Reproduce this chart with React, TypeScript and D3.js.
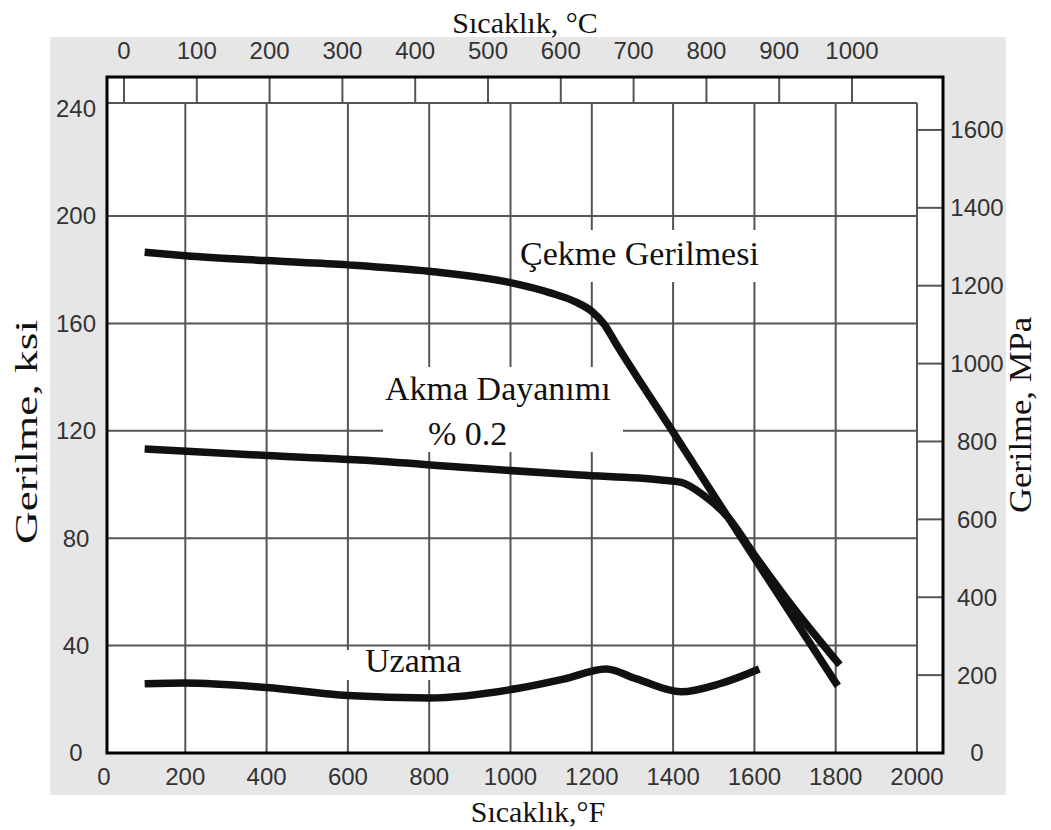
import * as d3 from 'd3';
import React from 'react';

const width = 1051;
const height = 830;

// axis ticks
const fahrenheitTicks = [0, 200, 400, 600, 800, 1000, 1200, 1400, 1600, 1800, 2000];
const celsiusTicks = [0, 100, 200, 300, 400, 500, 600, 700, 800, 900, 1000];
const ksiTicks = [0, 40, 80, 120, 160, 200, 240];
const mpaTicks = [0, 200, 400, 600, 800, 1000, 1200, 1400, 1600];

// series: [temperature °F, ksi]
const tensile = [
  [100, 186.5], [200, 185.2], [400, 183.4], [600, 181.8], [800, 179.4], [1000, 175.2],
  [1100, 171.3], [1160, 168], [1200, 164.5], [1230, 159.8], [1260, 152.3], [1400, 119.5],
  [1600, 72.6], [1805, 25],
];
const yieldStrength = [
  [100, 113.2], [400, 110.8], [630, 109.1], [900, 106.2], [1170, 103.5], [1370, 101.7],
  [1420, 100.8], [1475, 96], [1535, 87.8], [1600, 73.8], [1700, 53.3], [1810, 32.8],
];
const elongation = [
  [100, 25.8], [200, 26.1], [400, 24.4], [600, 21.4], [800, 20.5], [1020, 24.1],
  [1130, 27.5], [1235, 31.3], [1310, 27.6], [1420, 22.8], [1515, 25.8], [1612, 31.3],
];

const box = { left: 107, top: 77, right: 943, bottom: 753 };
const bandBottom = 103;
const gridRight = 917;

const x = d3.scaleLinear().domain([0, 2000]).range([104, 917]);
const xC = d3.scaleLinear().domain([0, 1000]).range([124, 852]);
const y = d3.scaleLinear().domain([0, 240]).range([753, 108.6]);
const yMpa = (m: number) => y(m / 6.895);

const line = d3.line<number[]>()
  .x(d => x(d[0]))
  .y(d => y(d[1]))
  .curve(d3.curveMonotoneX);

const sans = '"Liberation Sans", Arial, sans-serif';
const serif = '"Liberation Serif", "Times New Roman", serif';
const gridColor = '#555';
const tickText = '#333';

const App = () => {
  return (
    <svg width={width} height={height} style={{ position: 'absolute', left: 0, top: 0 }}>
      <rect x={0} y={0} width={width} height={height} fill="#fff" />
      <rect x={50} y={37} width={956} height={758} fill="#e6e6e6" />
      <rect x={box.left} y={box.top} width={box.right - box.left} height={box.bottom - box.top} fill="#fff" />

      {/* vertical grid (°F) */}
      {fahrenheitTicks.filter(t => t > 0).map(t => (
        <line key={'vf' + t} x1={x(t)} x2={x(t)} y1={bandBottom} y2={box.bottom} stroke={gridColor} strokeWidth={2} />
      ))}
      {/* horizontal grid (ksi) */}
      {ksiTicks.filter(t => t > 0 && t < 240).map(t => (
        <line key={'hk' + t} x1={box.left} x2={gridRight} y1={y(t)} y2={y(t)} stroke={gridColor} strokeWidth={2} />
      ))}
      <line x1={box.left} x2={gridRight} y1={bandBottom} y2={bandBottom} stroke={gridColor} strokeWidth={2} />
      {/* celsius band ticks */}
      {celsiusTicks.map(t => (
        <line key={'tc' + t} x1={xC(t)} x2={xC(t)} y1={box.top} y2={bandBottom} stroke={gridColor} strokeWidth={2} />
      ))}
      {/* MPa ticks */}
      {mpaTicks.filter(t => t > 0).map(t => (
        <line key={'tm' + t} x1={gridRight} x2={box.right} y1={yMpa(t)} y2={yMpa(t)} stroke={gridColor} strokeWidth={2} />
      ))}

      {/* label backgrounds */}
      <rect x={515} y={230} width={260} height={52} fill="#fff" />
      <rect x={383} y={367} width={240} height={85} fill="#fff" />
      <rect x={345} y={650} width={120} height={30} fill="#fff" />

      {/* curves */}
      <path d={line(tensile) || ''} fill="none" stroke="#111" strokeWidth={7.5} />
      <path d={line(yieldStrength) || ''} fill="none" stroke="#111" strokeWidth={7.5} />
      <path d={line(elongation) || ''} fill="none" stroke="#111" strokeWidth={7.5} />

      {/* frame */}
      <rect x={box.left} y={box.top} width={box.right - box.left} height={box.bottom - box.top} fill="none" stroke="#000" strokeWidth={3} />

      {/* tick labels */}
      <g fontFamily={sans} fontSize={24} fill={tickText} textAnchor="middle">
        {fahrenheitTicks.map(t => (
          <text key={'lf' + t} x={x(t)} y={777} dy="0.35em">{t}</text>
        ))}
        {celsiusTicks.map(t => (
          <text key={'lc' + t} x={xC(t)} y={51} dy="0.35em">{t}</text>
        ))}
        {ksiTicks.map(t => (
          <text key={'lk' + t} x={76} y={y(t)} dy="0.35em">{t}</text>
        ))}
        {mpaTicks.map(t => (
          <text key={'lm' + t} x={977} y={yMpa(t)} dy="0.35em">{t}</text>
        ))}
      </g>

      {/* series labels */}
      <g fontFamily={serif} fontSize={34} fill="#111">
        <text x={520} y={265}>Çekme Gerilmesi</text>
        <text x={385} y={400}>Akma Dayanımı</text>
        <text x={428} y={445}>% 0.2</text>
        <text x={365} y={672}>Uzama</text>
      </g>

      {/* axis titles */}
      <g fontFamily={serif} fontSize={30} fill="#111" textAnchor="middle">
        <text x={525} y={33}>Sıcaklık, °C</text>
        <text x={538} y={822}>Sıcaklık,°F</text>
        <text transform="translate(37,432) rotate(-90)" fontSize={32} textLength={224} lengthAdjust="spacingAndGlyphs">Gerilme, ksi</text>
        <text transform="translate(1031,415) rotate(-90)" fontSize={31} textLength={196} lengthAdjust="spacingAndGlyphs">Gerilme, MPa</text>
      </g>
    </svg>
  );
};

export default App;
